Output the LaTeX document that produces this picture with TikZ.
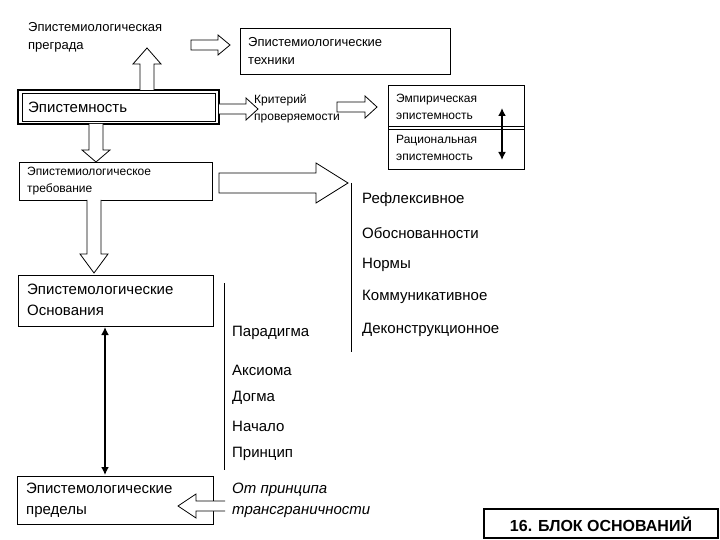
\documentclass[tikz,border=0pt]{standalone}
\usepackage{fontspec}
\setmainfont{Liberation Sans}
\usetikzlibrary{arrows.meta}
\begin{document}
\begin{tikzpicture}[x=1pt,y=-1pt,
  txt/.style={anchor=west,inner sep=0pt,align=left,font=\fontsize{13}{18}\selectfont},
  big/.style={anchor=west,inner sep=0pt,align=left,font=\fontsize{15}{21}\selectfont},
  sm/.style={anchor=west,inner sep=0pt,align=left,font=\fontsize{12}{17}\selectfont},
  boxs/.style={draw,line width=0.8pt},
  blk/.style={draw,line width=0.8pt,fill=white,line join=miter},
  tline/.style={line width=0.8pt},
  dbl/.style={line width=2.5pt,{Latex[length=8pt,width=8pt]}-{Latex[length=8pt,width=8pt]}}]
\useasboundingbox (0,0) rectangle (720,540);
% top
\node[txt] (bar) at (28,37) {Эпистемиологическая\\преграда};
\draw[boxs] (240,28) rectangle (450,74);
\node[txt] (tech) at (248,51) {Эпистемиологические\\техники};
\draw[blk] (191,40)--(218,40)--(218,35)--(230,45)--(218,55)--(218,50)--(191,50)--cycle;
% Epistemnost
\draw[line width=2.5pt] (18,90) rectangle (219,124);
\draw[line width=0.6pt] (22,93) rectangle (215,121);
\node[big] (ep) at (28,107) {Эпистемность};
\draw[blk] (140,90)--(140,64)--(133,64)--(147,48)--(161,64)--(154,64)--(154,90);
% criterion
\draw[blk] (219,104)--(246,104)--(246,98)--(258,109)--(246,120)--(246,114)--(219,114);
\node[sm] (crit) at (254,109) {Критерий\\проверяемости};
\draw[blk] (337,102)--(365,102)--(365,96)--(377,107)--(365,118)--(365,112)--(337,112)--cycle;
\draw[boxs] (388,85) rectangle (524,169);
\draw[line width=0.6pt] (388,126)--(524,126) (388,129)--(524,129);
\node[sm] (emp) at (396,107) {Эмпирическая\\эпистемность};
\node[sm] (rat) at (396,148) {Рациональная\\эпистемность};
\draw[dbl] (502,108)--(502,160);
% demand
\draw[blk] (89,124)--(89,150)--(82,150)--(96,162)--(110,150)--(103,150)--(103,124);
\draw[boxs] (19,162) rectangle (212,200);
\node[sm] (dem) at (27,181) {Эпистемиологическое\\требование};
\draw[blk] (219,173)--(316,173)--(316,163)--(348,183)--(316,203)--(316,193)--(219,193)--cycle;
\draw[tline] (351,183)--(351,352);
\node[big] (r1) at (362,200) {Рефлексивное};
\node[big] (r2) at (362,233) {Обоснованности};
\node[big] (r3) at (362,265) {Нормы};
\node[big] (r4) at (362,297) {Коммуникативное};
\node[big] (r5) at (362,330) {Деконструкционное};
% foundations
\draw[blk] (87,200)--(87,254)--(80,254)--(94,273)--(108,254)--(101,254)--(101,200);
\draw[boxs] (18,275) rectangle (213,326);
\node[big] (osn) at (27,300) {Эпистемологические\\Основания};
\draw[tline] (224,283)--(224,470);
\node[big] (p1) at (232,333) {Парадигма};
\node[big] (p2) at (232,370) {Аксиома};
\node[big] (p3) at (232,398) {Догма};
\node[big] (p4) at (232,426) {Начало};
\node[big] (p5) at (232,454) {Принцип};
\draw[dbl] (105,327)--(105,475);
\draw[boxs] (17,476) rectangle (213,524);
\node[big] (lim) at (26,500) {Эпистемологические\\пределы};
\node[big,font=\fontsize{15}{21}\selectfont\itshape] (tr) at (232,500) {От принципа\\трансграничности};
\draw[blk] (225,501)--(196,501)--(196,494)--(178,506)--(196,518)--(196,511)--(225,511);
\draw[line width=2.5pt] (484,509) rectangle (718,538);
\node[font=\fontsize{16}{18}\selectfont\bfseries] (lab) at (601,524) {16. БЛОК ОСНОВАНИЙ};
\end{tikzpicture}
\end{document}
